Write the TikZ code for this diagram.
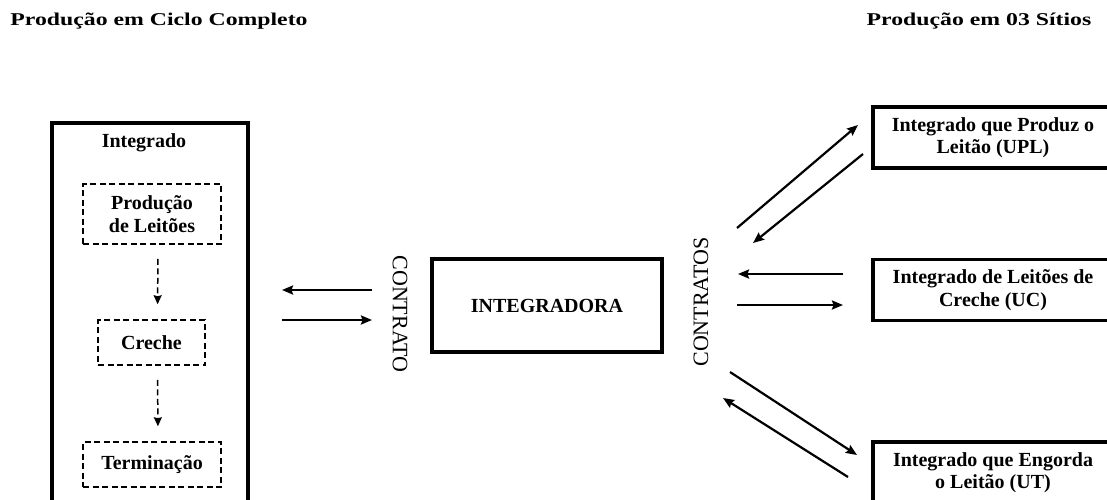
\documentclass[tikz,border=0pt]{standalone}
\usepackage{fontspec}
\setmainfont{Liberation Serif}
\newfontfamily\widefont[FakeStretch=1.32]{Liberation Serif}
\usetikzlibrary{arrows.meta}

\begin{document}
\begin{tikzpicture}[
x=1pt,y=-1pt,
>={Stealth[length=11pt,width=9pt,inset=1.5pt]},
heading/.style={
	font=\widefont\bfseries\fontsize{18}{20}\selectfont,
	inner sep=0pt
},
box/.style={
	draw,
	line width=3.4pt,
	align=center,
	font=\bfseries\fontsize{20}{22.5}\selectfont
},
stage/.style={
	draw,
	line width=1.5pt,
	dash pattern=on 6pt off 3.5pt,
	align=center,
	font=\bfseries\fontsize{20}{22.5}\selectfont
},
contract/.style={
	font=\fontsize{22}{24}\selectfont,
	inner sep=0pt
},
flow/.style={
	->,
	line width=2.2pt
},
stageflow/.style={
	-{Stealth[length=9pt,width=8pt,inset=1pt]},
	line width=1.5pt,
	dash pattern=on 6pt off 3.5pt,
	shorten <=14pt,
	shorten >=15pt
}
]
\useasboundingbox (0,0) rectangle (1107,499);
\clip (0,0) rectangle (1107,499);

\node[heading] (ciclo) at (159,21) {Produção em Ciclo Completo};
\node[heading] (sitios) at (979,21) {Produção em 03 Sítios};

% ciclo completo
\node[box,minimum width=196,minimum height=390] (integrado) at (150,318) {};
\node[font=\bfseries\fontsize{20}{22.5}\selectfont,inner sep=0pt] (integradolbl) at (144,143) {Integrado};
\node[stage,minimum width=138,minimum height=60] (leitoes) at (152,214) {Produção\\de Leitões};
\node[stage,minimum width=107,minimum height=45] (creche) at (151.5,342.5) {Creche};
\node[stage,minimum width=138,minimum height=45] (termino) at (152,464.5) {Terminação};

\draw[stageflow] ([xshift=6]leitoes.south) -- ([xshift=6]creche.north);
\draw[stageflow] ([xshift=6]creche.south) -- ([xshift=6]termino.north);

% integradora
\node[box,minimum width=230,minimum height=93] (integradora) at (547,305.5) {INTEGRADORA};
\node[contract,rotate=-90] (contrato) at (400,314) {CONTRATO};
\node[contract,rotate=90] (contratos) at (701,302) {CONTRATOS};

% 03 sitios
\node[box,minimum width=240,minimum height=61] (upl) at (993,137.5) {Integrado que Produz o\\Leitão (UPL)};
\node[box,minimum width=240,minimum height=61] (uc) at (993,290) {Integrado de Leitões de\\Creche (UC)};
\node[box,minimum width=240,minimum height=61] (ut) at (993,472.5) {Integrado que Engorda\\o Leitão (UT)};

\foreach \n/\ax/\ay/\bx/\by in {a/372/290/282/290,b/282/320/372/320,
	p/737/228/858/125,q/863/154/753/243,
	r/843/274/738/274,s/737/305/843/305,
	t/730/372/857/455,u/848/477/723/398}{
	\coordinate (\n1) at (\ax,\ay);
	\coordinate (\n2) at (\bx,\by);
}

\draw[flow] (a1) -- (a2);
\draw[flow] (b1) -- (b2);
\draw[flow] (p1) -- (p2);
\draw[flow] (q1) -- (q2);
\draw[flow] (r1) -- (r2);
\draw[flow] (s1) -- (s2);
\draw[flow] (t1) -- (t2);
\draw[flow] (u1) -- (u2);

\end{tikzpicture}
\end{document}
